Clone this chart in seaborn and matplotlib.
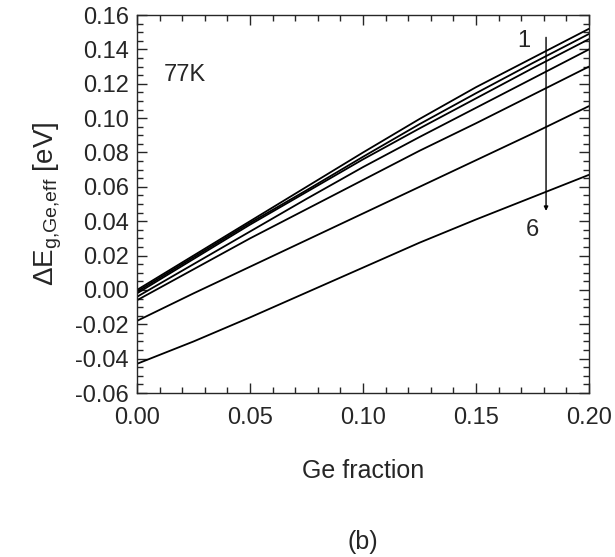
import numpy as np
import pandas as pd
import matplotlib
matplotlib.use("Agg")
import matplotlib.pyplot as plt
from matplotlib.ticker import MultipleLocator
import seaborn as sns

# Ge fraction sample points
ge_fraction = [0.0, 0.025, 0.05, 0.075, 0.10, 0.125, 0.15, 0.175, 0.20]

# effective bandgap offset curves (eV), top to bottom
curve_1 = [0.000, 0.020, 0.040, 0.060, 0.080, 0.0995, 0.118, 0.135, 0.152]
curve_2 = [-0.001, 0.019, 0.039, 0.058, 0.0775, 0.0965, 0.1145, 0.132, 0.149]
curve_3 = [-0.002, 0.018, 0.038, 0.057, 0.076, 0.094, 0.1115, 0.129, 0.146]
curve_4 = [-0.004, 0.015, 0.034, 0.053, 0.0715, 0.089, 0.106, 0.123, 0.140]
curve_5 = [-0.006, 0.012, 0.030, 0.047, 0.064, 0.081, 0.097, 0.1135, 0.130]
curve_6 = [-0.018, -0.002, 0.0135, 0.029, 0.0445, 0.060, 0.0755, 0.091, 0.107]
curve_7 = [-0.043, -0.030, -0.016, -0.0015, 0.013, 0.0275, 0.041, 0.054, 0.067]

curves = [curve_1, curve_2, curve_3, curve_4, curve_5, curve_6, curve_7]

# arrow marking the ordering of the curves
arrow_x = 0.181
arrow_top = 0.147
arrow_bottom = 0.046

rows = []
for i, vals in enumerate(curves):
    for x, v in zip(ge_fraction, vals):
        rows.append({"x": x, "dE": v, "curve": f"c{i + 1}"})
df = pd.DataFrame(rows)

sns.set_style("ticks")
plt.rcParams["font.family"] = ["Liberation Sans", "DejaVu Sans"]
plt.rcParams["mathtext.fontset"] = "custom"
plt.rcParams["mathtext.rm"] = "Liberation Sans"
plt.rcParams["mathtext.it"] = "Liberation Sans:italic"

fig = plt.figure(figsize=(6.15, 5.57), dpi=100)
ax = fig.add_axes([0.2228, 0.2944, 0.7349, 0.6786])

sns.lineplot(data=df, x="x", y="dE", hue="curve", palette=["black"] * len(curves),
             linewidth=1.3, legend=False, ax=ax, sort=False)

ax.set_xlim(0.0, 0.20)
ax.set_ylim(-0.06, 0.16)
ax.xaxis.set_major_locator(MultipleLocator(0.05))
ax.xaxis.set_minor_locator(MultipleLocator(0.01))
ax.yaxis.set_major_locator(MultipleLocator(0.02))
ax.yaxis.set_minor_locator(MultipleLocator(0.005))
ax.xaxis.set_major_formatter(plt.FormatStrFormatter("%.2f"))
ax.yaxis.set_major_formatter(plt.FormatStrFormatter("%.2f"))
ax.tick_params(which="both", direction="in", top=True, right=True, width=1.0)
ax.tick_params(which="major", length=7, labelsize=17)
ax.tick_params(axis="x", which="major", pad=10)
ax.tick_params(axis="y", which="major", pad=6)
ax.tick_params(which="minor", length=4)
for s in ax.spines.values():
    s.set_linewidth(1.0)

ax.set_xlabel("Ge fraction", fontsize=18, labelpad=22)
ax.set_ylabel(r"$\Delta\mathrm{E}_{\mathrm{g{,}Ge{,}eff}}$ [eV]", fontsize=20, labelpad=8)

ax.text(0.012, 0.125, "77K", fontsize=17, ha="left", va="center")
ax.annotate("", xy=(arrow_x, arrow_bottom), xytext=(arrow_x, arrow_top),
            arrowprops=dict(arrowstyle="-|>", color="black", lw=1.0,
                            mutation_scale=6, shrinkA=0, shrinkB=0))
ax.text(0.171, 0.145, "1", fontsize=17, ha="center", va="center")
ax.text(0.175, 0.035, "6", fontsize=17, ha="center", va="center")

fig.text(0.59, 0.005, "(b)", fontsize=18, ha="center", va="bottom")

fig.savefig("out.png", dpi=100, facecolor="white")
